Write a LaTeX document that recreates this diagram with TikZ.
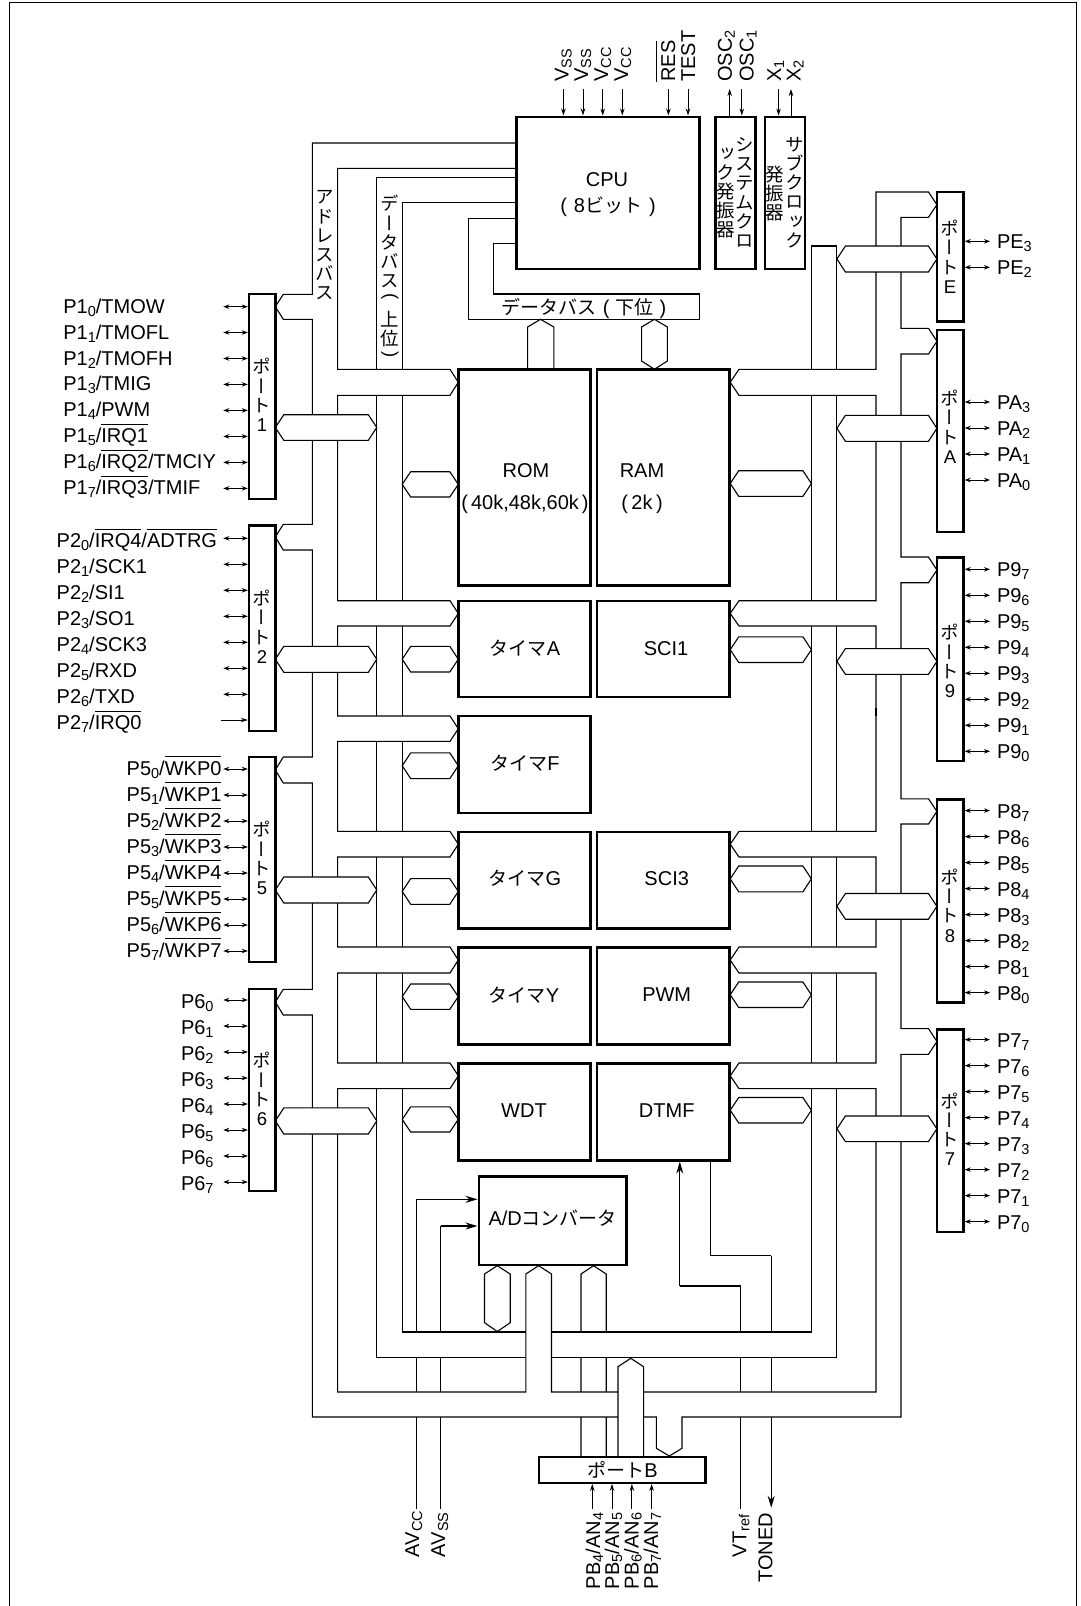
\documentclass[tikz,border=0pt]{standalone}
\usepackage{fontspec}
\usetikzlibrary{arrows.meta}
\setmainfont{Liberation Sans}
\newfontfamily\jpf{Noto Sans CJK JP}
\newfontfamily\tatefont[RawFeature={+vert}]{Noto Sans CJK JP}
\newcommand{\kn}[1]{{\jpf\fontsize{19}{21}\selectfont #1}}
\newcommand{\sbs}[1]{\raisebox{-3pt}{\fontsize{14.5}{14.5}\selectfont #1}}
\newcommand{\ovl}[1]{\setbox0=\hbox{#1}\rlap{\rule[17.8pt]{\wd0}{0.9pt}}\box0}
\newcommand{\latn}{\normalfont}
\newcommand{\vparen}[1]{\raisebox{.3em}{\rotatebox[origin=c]{-90}{\normalfont #1}}}
\tikzset{
  lab/.style={font=\fontsize{20}{24}\selectfont,inner sep=0pt,outer sep=0pt},
  tate/.style={align=center,font=\tatefont\fontsize{18.5}{19.2}\selectfont,inner sep=0pt,outer sep=0pt},
  blkbox/.style={draw,line width=2.4pt,fill=white,inner sep=0pt,outer sep=0pt,line join=miter},
  bus/.style={draw,line width=1.1pt,fill=white,line join=miter},
  sig/.style={line width=1.1pt},
  bi/.style={line width=0.9pt,shorten >=1.2pt,{Stealth[length=6pt,width=4.5pt]}-{Stealth[length=6pt,width=4.5pt]}},
  inp/.style={line width=0.9pt,shorten >=1.2pt,-{Stealth[length=7pt,width=4.5pt]}},
  big/.style={line width=1.1pt,shorten >=1.2pt,-{Stealth[length=12pt,width=7pt]}}
}
\newcommand{\blk}[5]{\node[blkbox,minimum width={(#4-#2)*1pt},minimum height={(#5-#3)*1pt}] (#1) at ({(#2+#4)/2},{(#3+#5)/2}) {};}
\newcommand{\hexH}[4]{\path[bus] (#1,{(#3+#4)/2}) -- (#1+8.5,#3) -- (#2-8.5,#3) -- (#2,{(#3+#4)/2}) -- (#2-8.5,#4) -- (#1+8.5,#4) -- cycle;}
\newcommand{\pinL}[6]{\coordinate (#2-e) at (223.3,#3);\node[lab,anchor=base west] (#2) at (#4,#3+#5) {#6};\draw[bi] (#2-e) -- (#1.west |- #2-e);}
\newcommand{\pinR}[5]{\coordinate (#2-e) at (990,#3);\node[lab,anchor=base west] (#2) at (997,#3+#4) {#5};\draw[bi] (#2-e) -- (#1.east |- #2-e);}
\begin{document}
\begin{tikzpicture}[x=1pt,y=-1pt]
\useasboundingbox (0,0) rectangle (1080,1606);
\fill[white] (0,0) rectangle (1080,1606);
\draw[line width=1.5pt] (9.5,1606) -- (9.5,2.3) -- (1076.7,2.3) -- (1076.7,1606);

% signal lines that pass under the buses
\coordinate (avccE) at (416.4,1509);
\coordinate (avssE) at (440.8,1509);
\coordinate (vtE) at (740.4,1509);
\coordinate (toneE) at (771.2,1509);
\coordinate (vtA) at (679.8,1286);
\coordinate (vtB) at (740.4,1286);
\coordinate (toneA) at (710.6,1255.7);
\coordinate (toneB) at (771.2,1255.7);
\coordinate (adcA) at (416.4,1199.3);
\coordinate (adcB) at (440.8,1226);
\draw[sig] (vtE) -- (vtB) -- (vtA);
\draw[sig] (toneB) -- (toneA);
\draw[big] (toneB) -- (toneE);
\draw[sig] (avccE) -- (adcA);
\draw[sig] (avssE) -- (adcB);
\path[draw,line width=1.1pt,line join=miter] (581,1457) -- (581,1274) -- (593.5,1265.7) -- (606.2,1274) -- (606.2,1457);

% data bus (upper)
\path[bus] (516.6,177.3) -- (376.8,177.3) -- (376.8,1357.7) -- (836.9,1357.7) -- (836.9,246) -- (811.4,246) -- (811.4,1332) -- (402.2,1332) -- (402.2,202.7) -- (516.6,202.7) -- cycle;

% address bus
\path[bus] (516.6,143) -- (312.4,143) -- (312.4,294.3) -- (283.3,294.3) -- (275.3,306.7) -- (283.3,319.3) -- (312.4,319.3)
 -- (312.4,524.3) -- (283.3,524.3) -- (275.3,537) -- (283.3,550) -- (312.4,550)
 -- (312.4,757) -- (283.3,757) -- (275.3,770) -- (283.3,783) -- (312.4,783)
 -- (312.4,989.3) -- (283.3,989.3) -- (275.3,1002) -- (283.3,1015) -- (312.4,1015)
 -- (312.4,1417) -- (656.3,1417) -- (656.3,1448.3) -- (669.3,1456) -- (682,1448.3) -- (682,1417) -- (901,1417)
 -- (901,1054.3) -- (928.5,1054.3) -- (936.9,1041.5) -- (928.5,1028.6) -- (901,1028.6)
 -- (901,824) -- (928.5,824) -- (936.9,811.4) -- (928.5,798.8) -- (901,798.8)
 -- (901,582.7) -- (928.5,582.7) -- (936.9,570) -- (928.5,557) -- (901,557)
 -- (901,354) -- (928.5,354) -- (936.9,341.3) -- (928.5,328.3) -- (901,328.3)
 -- (901,217.3) -- (928.5,217.3) -- (936.9,204.7) -- (928.5,192) -- (876,192)
 -- (876,369.3) -- (739,369.3) -- (730.2,382.3) -- (739,395.3) -- (876,395.3)
 -- (876,600.7) -- (739,600.7) -- (730.2,613.4) -- (739,626) -- (876,626)
 -- (876,831.4) -- (739,831.4) -- (730.2,844.2) -- (739,857) -- (876,857)
 -- (876,947) -- (739,947) -- (730.2,960) -- (739,973) -- (876,973)
 -- (876,1063) -- (739,1063) -- (730.2,1075.8) -- (739,1088.6) -- (876,1088.6)
 -- (876,1392) -- (551.5,1392) -- (551.5,1274) -- (538.6,1265.7) -- (525.8,1274) -- (525.8,1392) -- (337.6,1392)
 -- (337.6,1088.6) -- (450,1088.6) -- (458.3,1075.8) -- (450,1063) -- (337.6,1063)
 -- (337.6,973) -- (450,973) -- (458.3,960) -- (450,947) -- (337.6,947)
 -- (337.6,857) -- (450,857) -- (458.3,844.2) -- (450,831.4) -- (337.6,831.4)
 -- (337.6,741.4) -- (450,741.4) -- (458.3,728.7) -- (450,716) -- (337.6,716)
 -- (337.6,626) -- (450,626) -- (458.3,613.4) -- (450,600.7) -- (337.6,600.7)
 -- (337.6,395.3) -- (450,395.3) -- (458.3,382.3) -- (450,369.3) -- (337.6,369.3)
 -- (337.6,168.3) -- (516.6,168.3) -- cycle;
\draw[line width=1.9pt] (876,708) -- (876,716);

% data bus (lower)
\path[bus] (516.6,218.3) -- (468.4,218.3) -- (468.4,319.3) -- (699.4,319.3) -- (699.4,294) -- (493.5,294) -- (493.5,243.3) -- (516.6,243.3) -- cycle;
\path[bus] (527.6,369.3) -- (527.6,327) -- (540.5,319.3) -- (553.8,327) -- (553.8,369.3) -- cycle;
\path[bus] (654.4,369.3) -- (641.6,361) -- (641.6,327) -- (654.4,319.3) -- (667.4,327) -- (667.4,361) -- cycle;

% data branches
\hexH{275.3}{376.8}{414.7}{440.3}
\hexH{275.3}{376.8}{646.3}{672.3}
\hexH{275.3}{376.8}{877}{903}
\hexH{275.3}{376.8}{1107.9}{1134}
\hexH{402.2}{458.3}{471.7}{497}
\hexH{402.2}{458.3}{646.4}{672}
\hexH{402.2}{458.3}{752.9}{778.6}
\hexH{402.2}{458.3}{878.6}{904.3}
\hexH{402.2}{458.3}{984}{1009.3}
\hexH{402.2}{458.3}{1106.8}{1132}
\hexH{730.2}{811.4}{470.7}{496.3}
\hexH{730.2}{811.4}{636.8}{662.5}
\hexH{730.2}{811.4}{866}{891.8}
\hexH{730.2}{811.4}{982}{1007.5}
\hexH{730.2}{811.4}{1097.5}{1123}
\hexH{836.9}{936.9}{246}{272}
\hexH{836.9}{936.9}{415.3}{441.3}
\hexH{836.9}{936.9}{648.6}{674.3}
\hexH{836.9}{936.9}{893.5}{919.2}
\hexH{836.9}{936.9}{1116}{1141.6}
\path[bus] (497.3,1265.7) -- (510.2,1274) -- (510.2,1322.7) -- (497.3,1331.5) -- (484.5,1322.7) -- (484.5,1274) -- cycle;
\path[bus] (618,1457) -- (618,1366.7) -- (630.7,1358.3) -- (643.6,1366.7) -- (643.6,1457) -- cycle;

% blocks
\blk{cpu}{516.6}{116.7}{699.4}{268.7}
\blk{sysclk}{715.6}{116.7}{755.6}{268.7}
\blk{subclk}{764.8}{116.7}{805}{268.7}
\blk{rom}{458.3}{369.3}{590.5}{585.3}
\blk{ram}{597}{369.3}{729.4}{585.3}
\blk{tima}{458.3}{600.7}{590.5}{697}
\blk{sci1}{597}{600.7}{729.4}{697}
\blk{timf}{458.3}{716}{590.5}{813}
\blk{timg}{458.3}{832}{590.5}{928.6}
\blk{sci3}{597}{832}{729.4}{928.6}
\blk{timy}{458.3}{947.5}{590.5}{1044.6}
\blk{pwm}{597}{947.5}{729.4}{1044.6}
\blk{wdt}{458.3}{1063.6}{590.5}{1160.4}
\blk{dtmf}{597}{1063.6}{729.4}{1160.4}
\blk{adc}{478.7}{1176.3}{626.4}{1264.7}
\blk{portb}{538.8}{1456.7}{705.5}{1482.7}
\blk{p1}{249}{294}{275.3}{499}
\blk{p2}{249}{525.3}{275.3}{730.7}
\blk{p5}{249}{756.7}{275.3}{961.7}
\blk{p6}{249}{989}{275.3}{1191}
\blk{pe}{936.9}{192}{963.5}{321.3}
\blk{pa}{936.9}{330}{963.5}{532}
\blk{p9}{936.9}{557.3}{963.5}{760.8}
\blk{p8}{936.9}{799.6}{963.5}{1002.4}
\blk{p7}{936.9}{1029.4}{963.5}{1232.2}

% block texts
\node[lab] (cpu-t1) at (607,180) {CPU};
\node[lab] (cpu-t2) at (608,207) {(\hspace{7pt}8\kn{ビット}\hspace{7pt})};
\node[tate] (sys-t1) at (745,192.5) {シ\\ス\\テ\\ム\\ク\\ロ};
\node[tate] (sys-t2) at (726,193) {ッ\\ク\\発\\振\\器};
\node[tate] (sub-t1) at (795,192.5) {サ\\ブ\\ク\\ロ\\ッ\\ク};
\node[tate] (sub-t2) at (775,193.5) {発\\振\\器};
\node[tate] (addr-t) at (325,245.5) {ア\\ド\\レ\\ス\\バ\\ス};
\node[tate] (dhi-t) at (390,280) {デ\\ー\\タ\\バ\\ス\\\vparen{(}\\上\\位\\\vparen{)}};
\node[lab] (dlo-t) at (584,308) {\kn{データバス}\hspace{6pt}(\hspace{6pt}\kn{下位}\hspace{6pt})};
\node[lab] (rom-t1) at (526,471) {ROM};
\node[lab] (rom-t2) at (525,504) {(\hspace{3pt}40k,48k,60k\hspace{3pt})};
\node[lab] (ram-t1) at (642,471) {RAM};
\node[lab] (ram-t2) at (642,504) {(\hspace{3.5pt}2k\hspace{3.5pt})};
\node[lab] (tima-t) at (525,648) {\kn{タイマ}A};
\node[lab] (sci1-t) at (666,649) {SCI1};
\node[lab] (timf-t) at (525,763) {\kn{タイマ}F};
\node[lab] (timg-t) at (525,878.6) {\kn{タイマ}G};
\node[lab] (sci3-t) at (666.7,879) {SCI3};
\node[lab] (timy-t) at (524,995) {\kn{タイマ}Y};
\node[lab] (pwm-t) at (666.7,995) {PWM};
\node[lab] (wdt-t) at (524,1110.7) {WDT};
\node[lab] (dtmf-t) at (666.7,1110.7) {DTMF};
\node[lab] (adc-t) at (552.7,1218) {A/D\kn{コンバータ}};
\node[lab] (portb-t) at (622.5,1470) {\kn{ポート}B};
\node[tate] (p1-t) at (262,395) {ポ\\ー\\ト\\\latn 1};
\node[tate] (p2-t) at (262,626.7) {ポ\\ー\\ト\\\latn 2};
\node[tate] (p5-t) at (262,858) {ポ\\ー\\ト\\\latn 5};
\node[tate] (p6-t) at (262,1089) {ポ\\ー\\ト\\\latn 6};
\node[tate] (pe-t) at (950,256.7) {ポ\\ー\\ト\\\latn E};
\node[tate] (pa-t) at (950,426.7) {ポ\\ー\\ト\\\latn A};
\node[tate] (p9-t) at (950,661) {ポ\\ー\\ト\\\latn 9};
\node[tate] (p8-t) at (950,905.7) {ポ\\ー\\ト\\\latn 8};
\node[tate] (p7-t) at (950,1129.2) {ポ\\ー\\ト\\\latn 7};

% arrows into the A/D, DTMF
\draw[big] (adcA) -- (adc.west |- adcA);
\draw[big] (adcB) -- (adc.west |- adcB);
\draw[big] (vtA) -- (dtmf.south -| vtA);
\draw[sig] (dtmf.south -| toneA) -- (toneA);

% top pins
\foreach \n/\x in {vssA/563.4,vssB/583,vccA/602.7,vccB/622.3,resE/668.4,testE/688}{
  \coordinate (\n) at (\x,89);
  \draw[inp] (\n) -- (cpu.north -| \n);
}
\coordinate (osc2E) at (729.7,89);
\coordinate (osc1E) at (741.8,89);
\coordinate (x1E) at (778.6,89);
\coordinate (x2E) at (791,89);
\draw[inp,shorten >=0pt] (sysclk.north -| osc2E) -- (osc2E);
\draw[inp] (osc1E) -- (sysclk.north -| osc1E);
\draw[inp] (x1E) -- (subclk.north -| x1E);
\draw[inp,shorten >=0pt] (subclk.north -| x2E) -- (x2E);
\node[lab,rotate=90,anchor=base west] (vss1) at (568.6,81.7) {V\sbs{SS}};
\node[lab,rotate=90,anchor=base west] (vss2) at (588,81.7) {V\sbs{SS}};
\node[lab,rotate=90,anchor=base west] (vcc1) at (608,81.7) {V\sbs{CC}};
\node[lab,rotate=90,anchor=base west] (vcc2) at (628,81.7) {V\sbs{CC}};
\node[lab,rotate=90,anchor=base west] (res) at (675,81.7) {\ovl{RES}};
\node[lab,rotate=90,anchor=base west] (test) at (695,81.7) {TEST};
\node[lab,rotate=90,anchor=base west] (osc2) at (731.8,81.7) {OSC\sbs{2}};
\node[lab,rotate=90,anchor=base west] (osc1) at (753.5,81.7) {OSC\sbs{1}};
\node[lab,rotate=90,anchor=base west] (x1) at (781,81.7) {X\sbs{1}};
\node[lab,rotate=90,anchor=base west] (x2) at (800.7,81.7) {X\sbs{2}};

% bottom pins
\foreach \n/\x in {pb4E/592.3,pb5E/612,pb6E/631.9,pb7E/651.6}{
  \coordinate (\n) at (\x,1509.3);
  \draw[inp] (\n) -- (portb.south -| \n);
}
\node[lab,rotate=90,anchor=base west] (avcc) at (419,1557) {AV\sbs{CC}};
\node[lab,rotate=90,anchor=base west] (avss) at (445,1557) {AV\sbs{SS}};
\node[lab,rotate=90,anchor=base west] (pb4) at (600,1589) {PB\sbs{4}/AN\sbs{4}};
\node[lab,rotate=90,anchor=base west] (pb5) at (619.2,1589) {PB\sbs{5}/AN\sbs{5}};
\node[lab,rotate=90,anchor=base west] (pb6) at (638.6,1589) {PB\sbs{6}/AN\sbs{6}};
\node[lab,rotate=90,anchor=base west] (pb7) at (658,1589) {PB\sbs{7}/AN\sbs{7}};
\node[lab,rotate=90,anchor=base west] (vtref) at (746.3,1557) {VT\sbs{ref}};
\node[lab,rotate=90,anchor=base west] (toned) at (772.4,1582.7) {TONED};

% left pins
\pinL{p1}{p10}{306.7}{63.3}{6.5}{P1\sbs{0}/TMOW}
\pinL{p1}{p11}{332.5}{63.3}{6.5}{P1\sbs{1}/TMOFL}
\pinL{p1}{p12}{358.5}{63.3}{6.5}{P1\sbs{2}/TMOFH}
\pinL{p1}{p13}{384.4}{63.3}{6.5}{P1\sbs{3}/TMIG}
\pinL{p1}{p14}{410.4}{63.3}{6.5}{P1\sbs{4}/PWM}
\pinL{p1}{p15}{436.4}{63.3}{6.5}{P1\sbs{5}/\ovl{IRQ1}}
\pinL{p1}{p16}{462.4}{63.3}{6.5}{P1\sbs{6}/\ovl{IRQ2}/TMCIY}
\pinL{p1}{p17}{488.4}{63.3}{6.5}{P1\sbs{7}/\ovl{IRQ3}/TMIF}
\pinL{p2}{p20}{538.3}{56.7}{9.5}{P2\sbs{0}/\ovl{IRQ4}/\ovl{ADTRG}}
\pinL{p2}{p21}{564.3}{56.7}{9.5}{P2\sbs{1}/SCK1}
\pinL{p2}{p22}{590.3}{56.7}{9.5}{P2\sbs{2}/SI1}
\pinL{p2}{p23}{616.3}{56.7}{9.5}{P2\sbs{3}/SO1}
\pinL{p2}{p24}{642.3}{56.7}{9.5}{P2\sbs{4}/SCK3}
\pinL{p2}{p25}{668.3}{56.7}{9.5}{P2\sbs{5}/RXD}
\pinL{p2}{p26}{694.3}{56.7}{9.5}{P2\sbs{6}/TXD}
\coordinate (p27-e) at (221,720);
\node[lab,anchor=base west] (p27) at (56.7,729.5) {P2\sbs{7}/\ovl{IRQ0}};
\draw[inp] (p27-e) -- (p2.west |- p27-e);
\pinL{p5}{p50}{769}{126.7}{6}{P5\sbs{0}/\ovl{WKP0}}
\pinL{p5}{p51}{795}{126.7}{6}{P5\sbs{1}/\ovl{WKP1}}
\pinL{p5}{p52}{821}{126.7}{6}{P5\sbs{2}/\ovl{WKP2}}
\pinL{p5}{p53}{847}{126.7}{6}{P5\sbs{3}/\ovl{WKP3}}
\pinL{p5}{p54}{873}{126.7}{6}{P5\sbs{4}/\ovl{WKP4}}
\pinL{p5}{p55}{899}{126.7}{6}{P5\sbs{5}/\ovl{WKP5}}
\pinL{p5}{p56}{925}{126.7}{6}{P5\sbs{6}/\ovl{WKP6}}
\pinL{p5}{p57}{951}{126.7}{6}{P5\sbs{7}/\ovl{WKP7}}
\pinL{p6}{p60}{1000}{181}{8}{P6\sbs{0}}
\pinL{p6}{p61}{1026}{181}{8}{P6\sbs{1}}
\pinL{p6}{p62}{1052}{181}{8}{P6\sbs{2}}
\pinL{p6}{p63}{1078}{181}{8}{P6\sbs{3}}
\pinL{p6}{p64}{1104}{181}{8}{P6\sbs{4}}
\pinL{p6}{p65}{1130}{181}{8}{P6\sbs{5}}
\pinL{p6}{p66}{1156}{181}{8}{P6\sbs{6}}
\pinL{p6}{p67}{1182}{181}{8}{P6\sbs{7}}

% right pins
\pinR{pe}{pe3}{241.3}{7}{PE\sbs{3}}
\pinR{pe}{pe2}{267.3}{7}{PE\sbs{2}}
\pinR{pa}{pa3}{402}{7}{PA\sbs{3}}
\pinR{pa}{pa2}{428}{7}{PA\sbs{2}}
\pinR{pa}{pa1}{454}{7}{PA\sbs{1}}
\pinR{pa}{pa0}{480}{7}{PA\sbs{0}}
\pinR{p9}{p97}{569.3}{7}{P9\sbs{7}}
\pinR{p9}{p96}{595.3}{7}{P9\sbs{6}}
\pinR{p9}{p95}{621.3}{7}{P9\sbs{5}}
\pinR{p9}{p94}{647.3}{7}{P9\sbs{4}}
\pinR{p9}{p93}{673.3}{7}{P9\sbs{3}}
\pinR{p9}{p92}{699.3}{7}{P9\sbs{2}}
\pinR{p9}{p91}{725.3}{7}{P9\sbs{1}}
\pinR{p9}{p90}{751.3}{7}{P9\sbs{0}}
\pinR{p8}{p87}{810.6}{7.5}{P8\sbs{7}}
\pinR{p8}{p86}{836.6}{7.5}{P8\sbs{6}}
\pinR{p8}{p85}{862.6}{7.5}{P8\sbs{5}}
\pinR{p8}{p84}{888.6}{7.5}{P8\sbs{4}}
\pinR{p8}{p83}{914.6}{7.5}{P8\sbs{3}}
\pinR{p8}{p82}{940.6}{7.5}{P8\sbs{2}}
\pinR{p8}{p81}{966.6}{7.5}{P8\sbs{1}}
\pinR{p8}{p80}{992.6}{7.5}{P8\sbs{0}}
\pinR{p7}{p77}{1039.6}{7.5}{P7\sbs{7}}
\pinR{p7}{p76}{1065.6}{7.5}{P7\sbs{6}}
\pinR{p7}{p75}{1091.6}{7.5}{P7\sbs{5}}
\pinR{p7}{p74}{1117.6}{7.5}{P7\sbs{4}}
\pinR{p7}{p73}{1143.6}{7.5}{P7\sbs{3}}
\pinR{p7}{p72}{1169.6}{7.5}{P7\sbs{2}}
\pinR{p7}{p71}{1195.6}{7.5}{P7\sbs{1}}
\pinR{p7}{p70}{1221.6}{7.5}{P7\sbs{0}}
\end{tikzpicture}
\end{document}
